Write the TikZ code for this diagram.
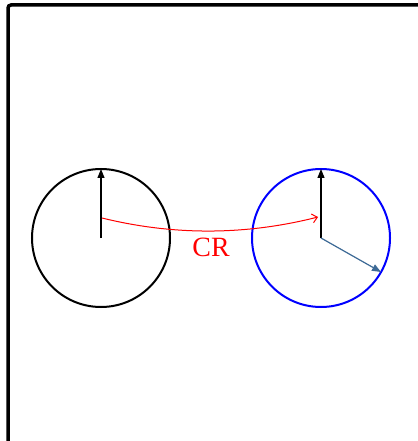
\documentclass[tikz,border=0pt]{standalone}
\usepackage{fontspec}
\setmainfont{Liberation Serif}
\usepackage{tikz}
\usetikzlibrary{positioning,arrows.meta}
\definecolor{steel}{HTML}{3D6A96}

\begin{document}
\begin{tikzpicture}[
    x=1bp, y=-1bp,
    wheel/.style={circle, line width=2bp, minimum size=138bp, inner sep=0pt},
    axisvec/.style={-{Triangle[length=9bp, width=7bp]}, line width=1.2bp},
    crlabel/.style={font=\fontsize{28}{32}\selectfont, text=red}
]
    \useasboundingbox (0,0) rectangle (417,441);

    % Frame (top and left edges)
    \draw[line width=3.5bp, rounded corners=3bp] (8,445) -- (8,5) -- (421,5);

    % The two circles
    \node[wheel, draw=black] (leftWheel) at (101,238) {};
    \node[wheel, draw=blue] (rightWheel) at (321,238) {};

    % Vectors on the left circle
    \coordinate (leftTop) at (101,169);
    \draw[axisvec, black] (leftWheel.center) -- (leftTop);

    % Vectors on the right circle
    \coordinate (rightTop) at (321,169);
    \coordinate (rightTip) at (381,272);
    \draw[axisvec, black] (rightWheel.center) -- (rightTop);
    \draw[axisvec, draw=steel, fill=steel] (rightWheel.center) -- (rightTip);

    % Red transfer arc
    \coordinate (arcStart) at (102,218);
    \coordinate (arcEnd) at (318,217);
    \draw[red, line width=1bp, -{Straight Barb[length=5bp, width=9bp]}]
        (arcStart) .. controls (175,236) and (247,235) .. (arcEnd);
    \node[crlabel] (crText) at (211,247) {CR};
\end{tikzpicture}
\end{document}
